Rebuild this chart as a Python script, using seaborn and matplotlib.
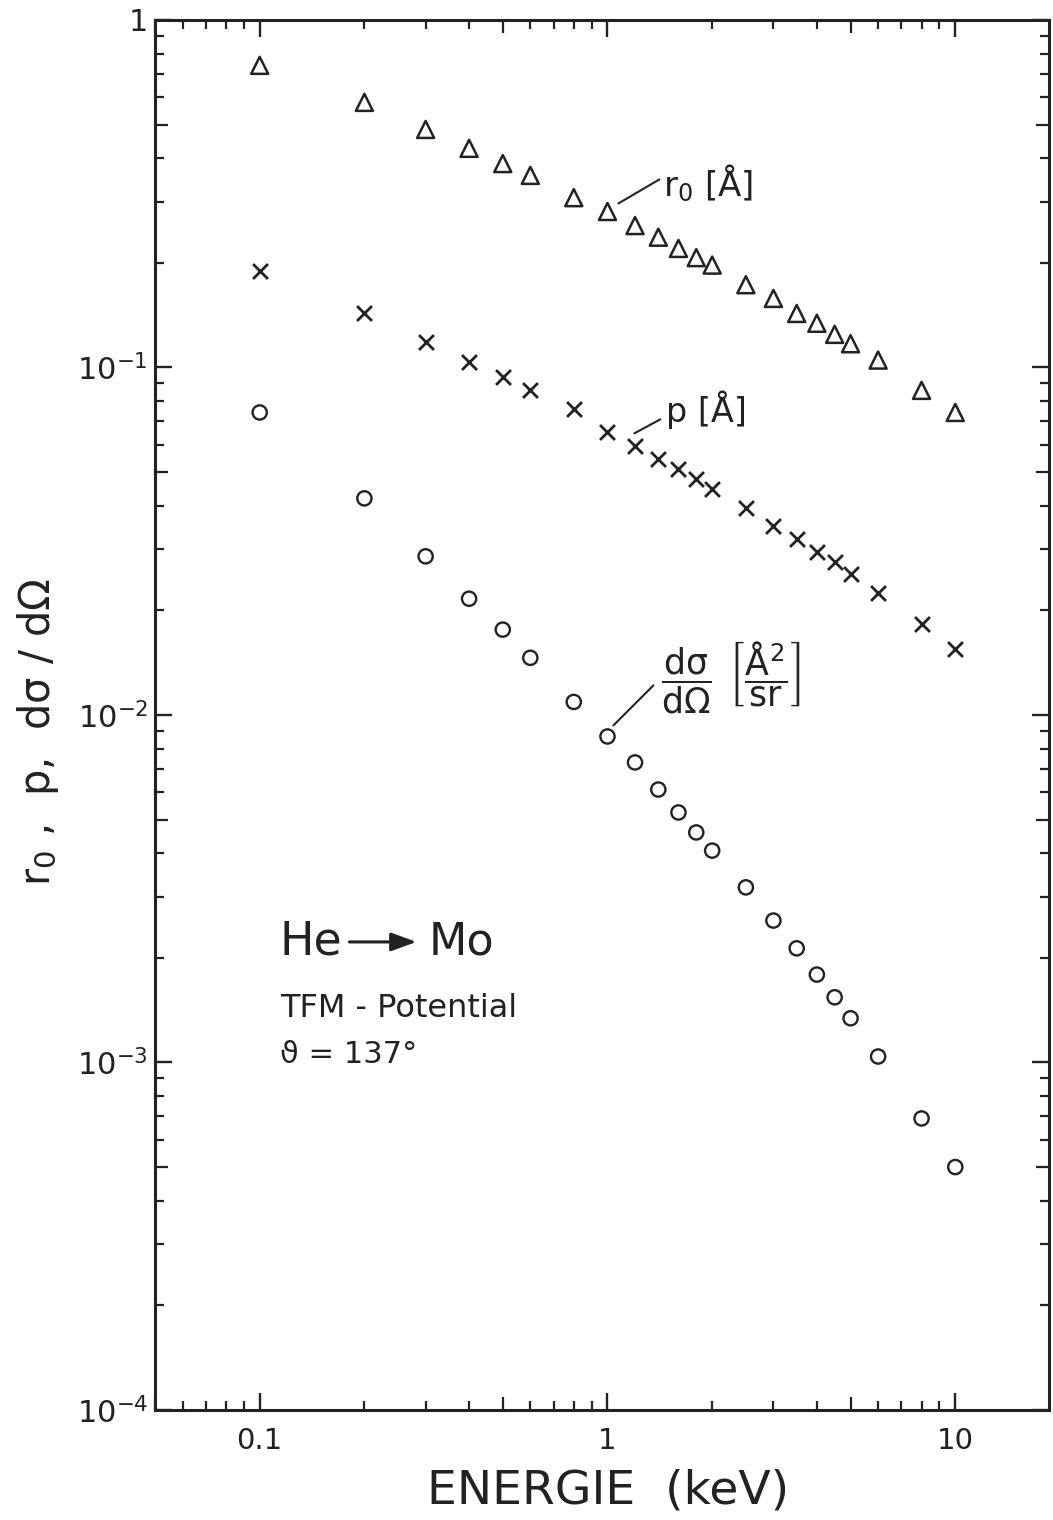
import matplotlib
matplotlib.use("Agg")
import numpy as np
import pandas as pd
import matplotlib.pyplot as plt
import seaborn as sns
from matplotlib.ticker import FixedLocator, FixedFormatter, NullFormatter

# He -> Mo scattering, TFM potential, scattering angle 137 deg
energy_kev = [0.1, 0.2, 0.3, 0.4, 0.5, 0.6, 0.8, 1.0, 1.2, 1.4, 1.6, 1.8,
              2.0, 2.5, 3.0, 3.5, 4.0, 4.5, 5.0, 6.0, 8.0, 10.0]
r0_angstrom = [0.740, 0.579, 0.484, 0.427, 0.386, 0.357, 0.308, 0.281, 0.256,
               0.237, 0.220, 0.207, 0.197, 0.173, 0.158, 0.143, 0.134, 0.1245,
               0.117, 0.105, 0.0859, 0.0742]
p_angstrom = [0.190, 0.143, 0.118, 0.104, 0.0936, 0.0859, 0.0757, 0.0650,
              0.0593, 0.0544, 0.0509, 0.0476, 0.0446, 0.0393, 0.0349, 0.0320,
              0.0295, 0.0275, 0.0255, 0.0225, 0.0183, 0.0155]
dsigma_domega = [0.0742, 0.0420, 0.0286, 0.0216, 0.0176, 0.0146, 0.0109,
                 0.00867, 0.00730, 0.00610, 0.00524, 0.00459, 0.00407,
                 0.00319, 0.00256, 0.00213, 0.00179, 0.00154, 0.00134,
                 0.00104, 0.00069, 0.00050]

x_major = [0.1, 1, 10]
x_major_labels = ["0.1", "1", "10"]
y_major = [1e-4, 1e-3, 1e-2, 1e-1, 1]
y_major_labels = [r"$10^{-4}$", r"$10^{-3}$", r"$10^{-2}$", r"$10^{-1}$", "1"]

df = pd.DataFrame({"E": energy_kev, "r0": r0_angstrom,
                   "p": p_angstrom, "dsig": dsigma_domega})

sns.set_theme(style="ticks")
plt.rcParams["font.family"] = ["DejaVu Sans"]
plt.rcParams["mathtext.fontset"] = "dejavusans"
plt.rcParams["mathtext.default"] = "regular"

fig = plt.figure(figsize=(10.53, 15.2), dpi=100)
ax = fig.add_axes([0.1472, 0.0724, 0.8490, 0.9145])

ink = "#222222"
sns.scatterplot(data=df, x="E", y="r0", marker="^", s=150,
                facecolor="none", edgecolor=ink, linewidth=1.8, ax=ax)
sns.scatterplot(data=df, x="E", y="p", marker="x", s=115,
                color=ink, linewidth=2.0, ax=ax)
sns.scatterplot(data=df, x="E", y="dsig", marker="o", s=105,
                facecolor="none", edgecolor=ink, linewidth=1.7, ax=ax)

ax.set_xscale("log")
ax.set_yscale("log")
ax.set_xlim(0.05, 18.6)
ax.set_ylim(1e-4, 1)

# major ticks with labels
ax.xaxis.set_major_locator(FixedLocator(x_major))
ax.xaxis.set_major_formatter(FixedFormatter(x_major_labels))
ax.yaxis.set_major_locator(FixedLocator(y_major))
ax.yaxis.set_major_formatter(FixedFormatter(y_major_labels))

# minor ticks 2..9 of every decade
x_minor = [m * 10.0 ** k for k in (-2, -1, 0, 1) for m in range(2, 10)
           if 0.05 <= m * 10.0 ** k <= 18.6]
y_minor = [m * 10.0 ** k for k in (-4, -3, -2, -1) for m in range(2, 10)]
ax.xaxis.set_minor_locator(FixedLocator(x_minor))
ax.yaxis.set_minor_locator(FixedLocator(y_minor))
ax.xaxis.set_minor_formatter(NullFormatter())
ax.yaxis.set_minor_formatter(NullFormatter())

for side in ax.spines.values():
    side.set_linewidth(2.2)
    side.set_color(ink)

ax.tick_params(which="both", direction="in", top=True, right=True,
               color=ink, labelcolor=ink)
ax.tick_params(which="major", length=12.5, width=1.7)
ax.tick_params(which="minor", length=6.5, width=1.6)
ax.tick_params(axis="x", which="major", labelsize=21, pad=12)
ax.tick_params(axis="y", which="major", labelsize=22, pad=5)

# the 5s in each decade get somewhat longer ticks
for axis, locs in ((ax.xaxis, x_minor), (ax.yaxis, y_minor)):
    ticks = axis.get_minor_ticks(len(locs))
    for t, v in zip(ticks, locs):
        mant = v / 10.0 ** np.floor(np.log10(v) + 1e-9)
        if abs(mant - 5) < 1e-6:
            t.tick1line.set_markersize(9.5)
            t.tick2line.set_markersize(9.5)

ax.set_xlabel("ENERGIE  (keV)", fontsize=34, color=ink)
ax.xaxis.set_label_coords(0.507, -0.042)
ax.set_ylabel(r"$r_0$ ,  p,  dσ / dΩ", fontsize=30, color=ink)
ax.yaxis.set_label_coords(-0.105, 0.488)

# curve labels with leader lines
line_kw = dict(arrowstyle="-", lw=1.5, color=ink, shrinkA=0, shrinkB=0)
ax.annotate("", xy=(1.075, 0.2964), xytext=(1.410, 0.3475), arrowprops=line_kw)
ax.text(1.448, 0.3105, r"$r_0$ [Å]", fontsize=24.5, color=ink,
        ha="left", va="baseline")
ax.annotate("", xy=(1.195, 0.0646), xytext=(1.419, 0.0709), arrowprops=line_kw)
ax.text(1.477, 0.0695, "p [Å]", fontsize=24, color=ink,
        ha="left", va="baseline")
ax.annotate("", xy=(1.040, 0.00933), xytext=(1.355, 0.01216), arrowprops=line_kw)
ax.text(1.429, 0.01282,
        r"$\dfrac{d\sigma}{d\Omega}\;\,\left[\dfrac{\AA^{2}}{sr}\right]$",
        fontsize=25, color=ink, ha="left", va="center")

# reaction and parameters
ax.text(0.1398, 0.3367, "He", transform=ax.transAxes, fontsize=33,
        color=ink, ha="left", va="center")
ax.text(0.3065, 0.3367, "Mo", transform=ax.transAxes, fontsize=32,
        color=ink, ha="left", va="center")
ax.annotate("", xy=(0.2925, 0.3367), xytext=(0.2175, 0.3367),
            xycoords="axes fraction", textcoords="axes fraction",
            arrowprops=dict(arrowstyle="-|>,head_length=0.55,head_width=0.2",
                            lw=2.2, color=ink, mutation_scale=28,
                            shrinkA=0, shrinkB=0))
ax.text(0.1398, 0.289, "TFM - Potential", transform=ax.transAxes,
        fontsize=23, color=ink, ha="left", va="center")
ax.text(0.1398, 0.2554, "ϑ = 137°", transform=ax.transAxes,
        fontsize=22, color=ink, ha="left", va="center")

fig.savefig("out.png", dpi=100, facecolor="white")
